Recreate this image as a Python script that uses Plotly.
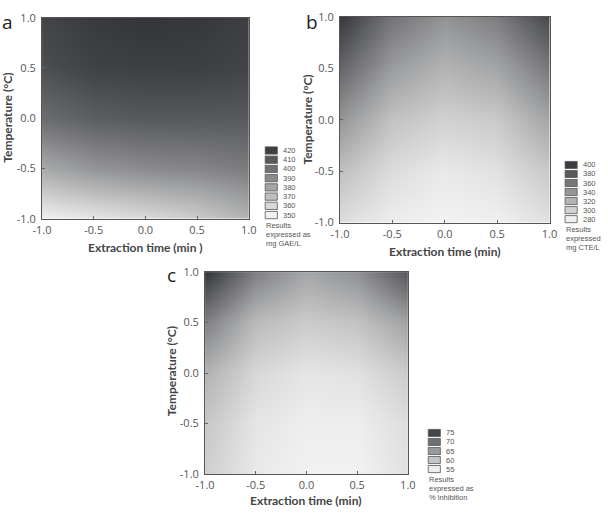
import plotly.graph_objects as go

# ---------------- data ----------------
grid = [-1.0, -0.5, 0.0, 0.5, 1.0]          # coded levels (both axes)

# panel a : mg GAE/L  (rows = temperature -1 .. 1, cols = time -1 .. 1)
za = [
    [350, 354, 358, 364, 374],
    [378, 386, 390, 392, 396],
    [402, 408, 410, 410, 410],
    [414, 419, 420, 420, 418],
    [418, 422, 424, 423, 420],
]
levels_a = [420, 410, 400, 390, 380, 370, 360, 350]

# panel b : mg CTE/L
zb = [
    [292, 282, 278, 280, 290],
    [312, 293, 285, 290, 306],
    [340, 310, 300, 305, 330],
    [372, 336, 320, 330, 360],
    [402, 362, 342, 356, 392],
]
levels_b = [400, 380, 360, 340, 320, 300, 280]

# panel c : % inhibition
zc = [
    [58.5, 55.5, 54.5, 54.5, 56.5],
    [59.5, 56, 55, 55, 57],
    [62, 57.5, 56, 56.5, 59],
    [68, 61, 59, 60, 64],
    [77, 68, 63.5, 66, 73],
]
levels_c = [75, 70, 65, 60, 55]

tick_vals = [-1.0, -0.5, 0.0, 0.5, 1.0]
tick_text = ["-1.0", "-0.5", "0.0", "0.5", "1.0"]

W, H = 608, 517
LIGHT = (246, 246, 246)
DARK = (52, 53, 57)

def px(x):
    return x / W

def py(y):
    return 1 - y / H

def gray_at(t):
    c = [round(LIGHT[i] + (DARK[i] - LIGHT[i]) * t) for i in range(3)]
    return "rgb(%d,%d,%d)" % tuple(c)

colorscale = [[i / 10, gray_at(i / 10)] for i in range(11)]

panels = [
    dict(z=za, levels=levels_a, zmin=348, zmax=424, xdom=(33, 246), ydom=(10, 217),
         xtitle="Extraction time (min )", unit=["Results", "expressed as", "mg GAE/L"],
         box=(263, 143, 9.5), label="a", labxy=(-3, 14), xt=(140, 247), yt=(-2, 113)),
    dict(z=zb, levels=levels_b, zmin=276, zmax=404, xdom=(340, 556), ydom=(9, 221),
         xtitle="Extraction time (min)", unit=["Results", "expressed", "mg CTE/L"],
         box=(572, 158, 9.3), label="b", labxy=(311, 14), xt=(448, 251), yt=(307, 115)),
    dict(z=zc, levels=levels_c, zmin=54, zmax=77, xdom=(201, 410), ydom=(272, 480),
         xtitle="Extraction time (min)", unit=["Results", "expressed as", "% inhibition"],
         box=(431, 434, 9.3), label="c", labxy=(166, 275), xt=(305, 507), yt=(166, 374)),
]

fig = go.Figure()
shapes = []
annotations = []
axis_font = dict(family="Open Sans", size=11, color="#555555")
title_font = dict(family="Lato", size=12, color="#444444")

for i, p in enumerate(panels):
    n = "" if i == 0 else str(i + 1)
    fig.add_trace(go.Heatmap(
        x=grid, y=grid, z=p["z"], zsmooth="best", colorscale=colorscale,
        zmin=p["zmin"], zmax=p["zmax"], showscale=False,
        xaxis="x" + n, yaxis="y" + n, hoverinfo="skip"))
    ax = dict(range=[-1, 1], tickvals=tick_vals, ticktext=tick_text, ticks="inside",
              ticklen=3, tickcolor="#666666", showline=True, linecolor="#555555",
              linewidth=1, mirror=True, showgrid=False, zeroline=False,
              tickfont=axis_font)
    fig.layout["xaxis" + n] = dict(ax, domain=[px(p["xdom"][0]), px(p["xdom"][1])],
                                    anchor="y" + n, ticklabelstandoff=1)
    fig.layout["yaxis" + n] = dict(ax, domain=[py(p["ydom"][1]), py(p["ydom"][0])],
                                    anchor="x" + n, ticklabelstandoff=3)
    annotations.append(dict(text="<b>%s</b>" % p["xtitle"], x=px(p["xt"][0]), y=py(p["xt"][1]),
                            xref="paper", yref="paper", showarrow=False, font=title_font,
                            xanchor="center", yanchor="middle"))
    annotations.append(dict(text="<b>Temperature (°C)</b>", x=px(p["yt"][0]), y=py(p["yt"][1]),
                            xref="paper", yref="paper", showarrow=False, font=title_font,
                            textangle=-90, xanchor="center", yanchor="middle"))
    annotations.append(dict(text=p["label"], x=px(p["labxy"][0]), y=py(p["labxy"][1]),
                            xref="paper", yref="paper", showarrow=False,
                            font=dict(family="Open Sans", size=19, color="#222222"),
                            xanchor="center", yanchor="middle"))
    bx, by, step = p["box"]
    for k, lv in enumerate(p["levels"]):
        t = (lv - p["zmin"]) / (p["zmax"] - p["zmin"])
        y0 = by + k * step
        shapes.append(dict(type="rect", xref="paper", yref="paper",
                           x0=px(bx), x1=px(bx + 12.5), y0=py(y0), y1=py(y0 + step - 2),
                           fillcolor=gray_at(t), line=dict(color="#555555", width=0.8)))
        annotations.append(dict(text=str(lv), x=px(bx + 16), y=py(y0 + (step - 2) / 2),
                                xref="paper", yref="paper", showarrow=False,
                                font=dict(family="Liberation Sans", size=7.5, color="#555555"),
                                xanchor="left", yanchor="middle"))
    yend = by + len(p["levels"]) * step
    for j, line in enumerate(p["unit"]):
        annotations.append(dict(text=line, x=px(bx - 1), y=py(yend + 5 + j * 9.5),
                                xref="paper", yref="paper", showarrow=False,
                                font=dict(family="Liberation Sans", size=7.5, color="#555555"),
                                xanchor="left", yanchor="middle"))

fig.update_layout(width=W, height=H, margin=dict(l=0, r=0, t=0, b=0),
                  paper_bgcolor="white", plot_bgcolor="white",
                  shapes=shapes, annotations=annotations)
fig.write_html("out.html")
